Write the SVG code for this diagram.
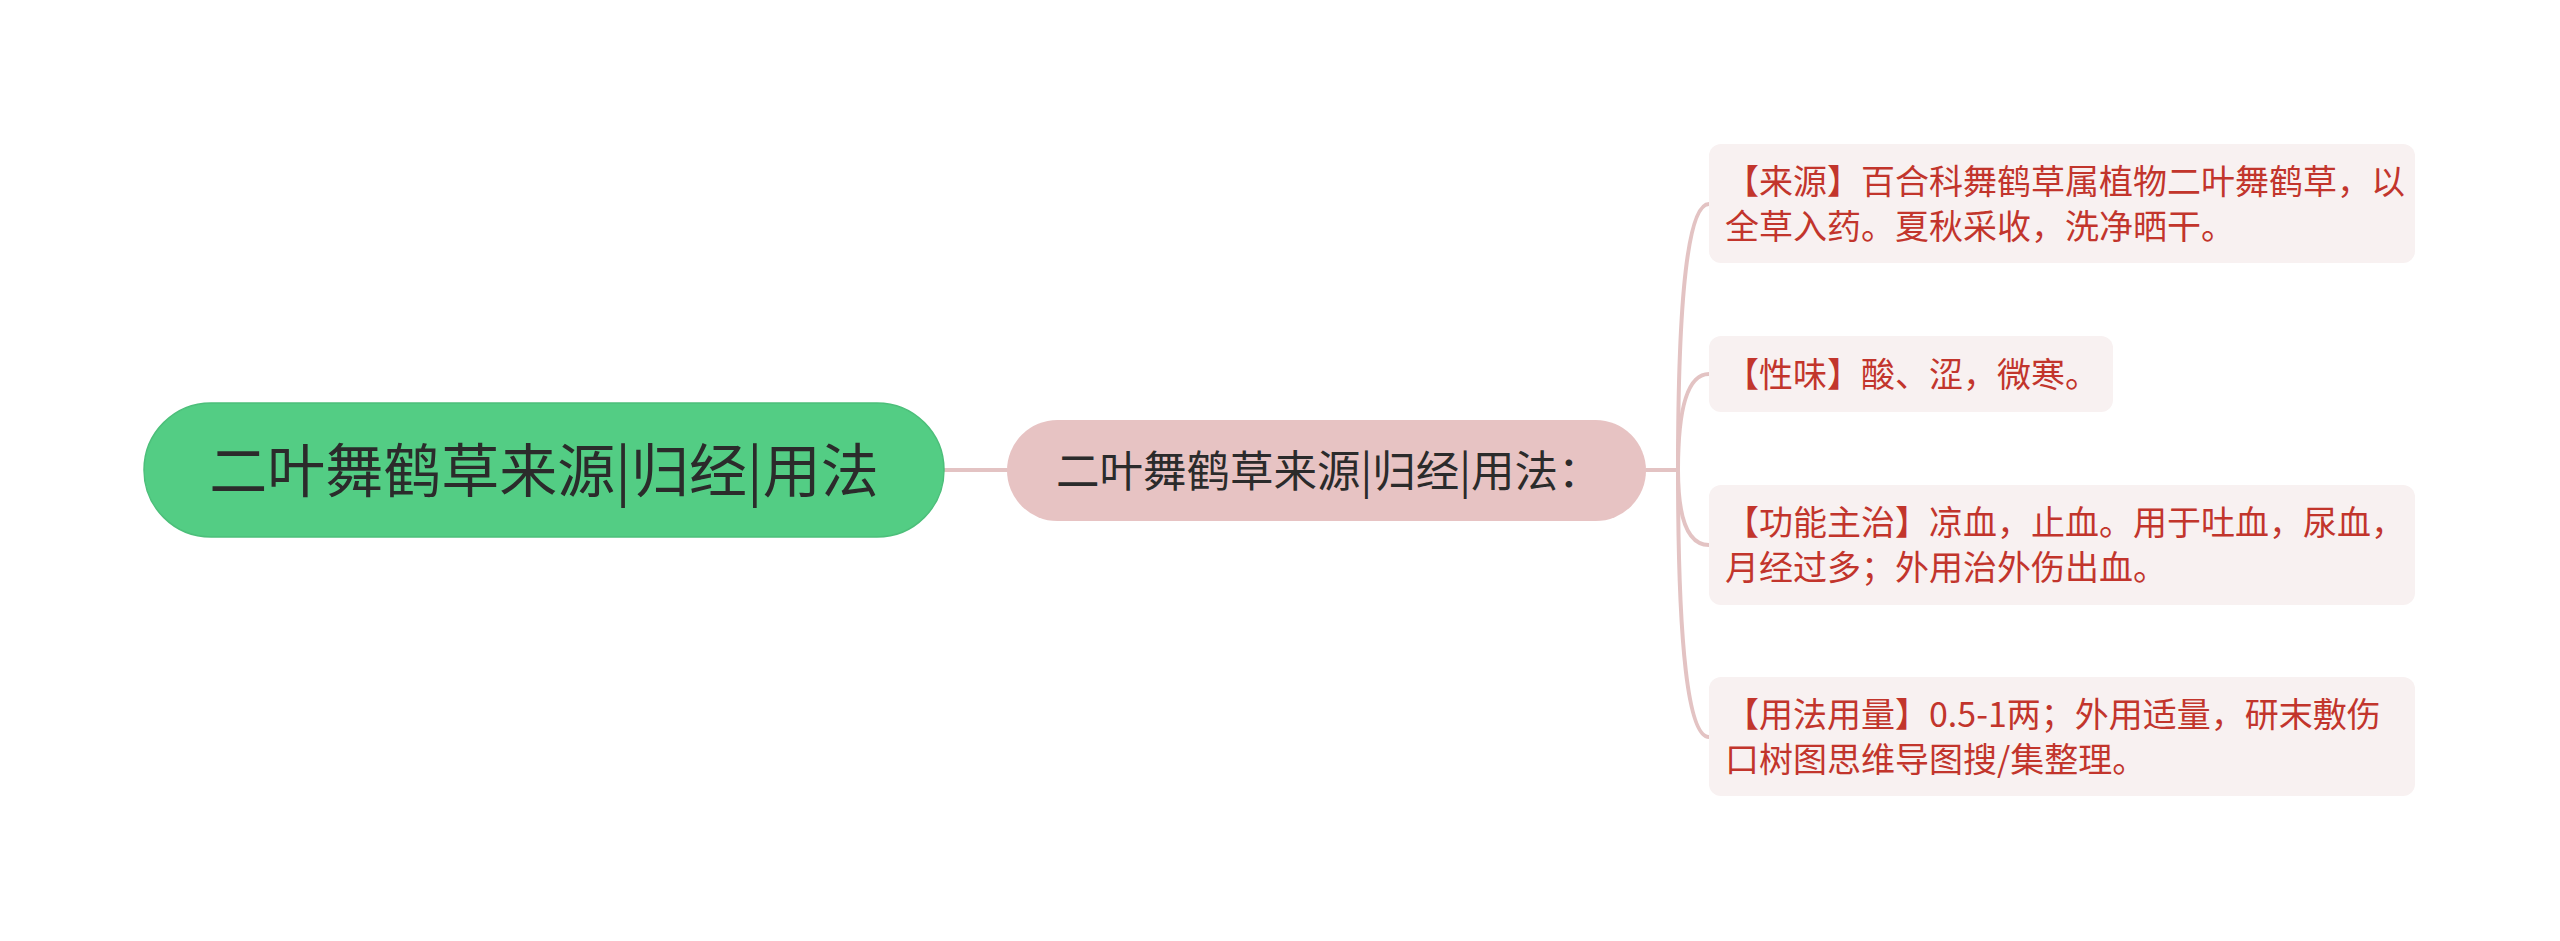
<svg xmlns="http://www.w3.org/2000/svg" width="2560" height="941" viewBox="0 0 2560 941">
<style>
.t{font-family:"Noto Sans CJK SC","Noto Sans",sans-serif}
.root-box{fill:#53cd84;stroke:#4cbf7a;stroke-width:1.5}
.root-txt{font-size:58px;fill:#2b2b2b}
.main-box{fill:#e7c3c3}
.main-txt{font-size:43.5px;fill:#2b2b2b}
.leaf-box{fill:#f8f1f1}
.leaf-txt{font-size:34px;fill:#c2352c}
.conn{fill:none;stroke:#e3c3c3;stroke-width:4;stroke-linecap:round}
</style>
<rect width="2560" height="941" fill="#ffffff"/>
<g id="connectors">
<path class="conn" d="M944 470 L1007 470"/>
<path class="conn" d="M1646 470 L1678 470"/>
<path class="conn" d="M1678 470 Q1678 204 1709 204"/>
<path class="conn" d="M1678 470 Q1678 374 1709 374"/>
<path class="conn" d="M1678 470 Q1678 545 1709 545"/>
<path class="conn" d="M1678 470 Q1678 737 1709 737"/>
</g>
<g id="root">
<rect class="root-box" x="144" y="403" width="800" height="134" rx="67"/>
<text class="t root-txt" x="544" y="492" text-anchor="middle">二叶舞鹤草来源|归经|用法</text>
</g>
<g id="main">
<rect class="main-box" x="1007" y="420" width="639" height="101" rx="50.5"/>
<text class="t main-txt" x="1056" y="487">二叶舞鹤草来源|归经|用法：</text>
</g>
<g id="leaf1">
<rect class="leaf-box" x="1709" y="144" width="706" height="119" rx="12"/>
<text class="t leaf-txt" x="1725" y="194">【来源】百合科舞鹤草属植物二叶舞鹤草，以</text>
<text class="t leaf-txt" x="1725" y="239">全草入药。夏秋采收，洗净晒干。</text>
</g>
<g id="leaf2">
<rect class="leaf-box" x="1709" y="336" width="404" height="76" rx="12"/>
<text class="t leaf-txt" x="1725" y="387">【性味】酸、涩，微寒。</text>
</g>
<g id="leaf3">
<rect class="leaf-box" x="1709" y="485" width="706" height="120" rx="12"/>
<text class="t leaf-txt" x="1725" y="535">【功能主治】凉血，止血。用于吐血，尿血，</text>
<text class="t leaf-txt" x="1725" y="580">月经过多；外用治外伤出血。</text>
</g>
<g id="leaf4">
<rect class="leaf-box" x="1709" y="677" width="706" height="119" rx="12"/>
<text class="t leaf-txt" x="1725" y="727">【用法用量】0.5-1两；外用适量，研末敷伤</text>
<text class="t leaf-txt" x="1725" y="772">口树图思维导图搜/集整理。</text>
</g>
</svg>
